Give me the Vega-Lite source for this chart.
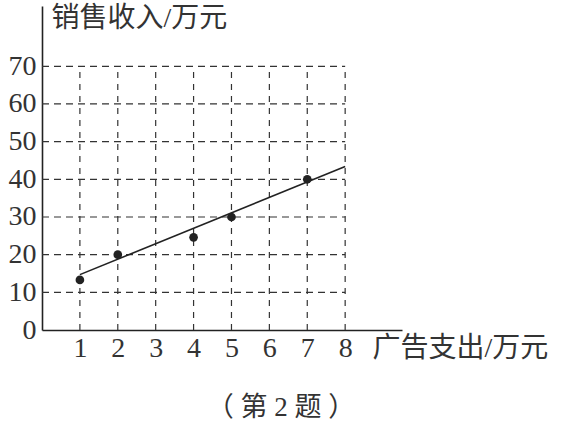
{
  "$schema": "https://vega.github.io/schema/vega-lite/v6.json",
  "width": 360,
  "height": 324,
  "autosize": {"type": "none"},
  "padding": {"left": 42, "top": 6, "right": 160, "bottom": 94},
  "background": "white",
  "title": {
    "text": "（ 第 2 题 ）",
    "orient": "bottom",
    "anchor": "middle",
    "frame": "group",
    "dx": 59,
    "offset": 33,
    "font": "Liberation Serif, Noto Sans CJK SC",
    "fontSize": 27,
    "fontWeight": "normal",
    "color": "#333"
  },
  "datasets": {
    "hgrid": [
      {"x": 0, "x2": 8, "y": 10},
      {"x": 0, "x2": 8, "y": 20},
      {"x": 0, "x2": 8, "y": 30},
      {"x": 0, "x2": 8, "y": 40},
      {"x": 0, "x2": 8, "y": 50},
      {"x": 0, "x2": 8, "y": 60},
      {"x": 0, "x2": 8, "y": 70}
    ],
    "vgrid": [
      {"x": 1, "y": 0, "y2": 70},
      {"x": 2, "y": 0, "y2": 70},
      {"x": 3, "y": 0, "y2": 70},
      {"x": 4, "y": 0, "y2": 70},
      {"x": 5, "y": 0, "y2": 70},
      {"x": 6, "y": 0, "y2": 70},
      {"x": 7, "y": 0, "y2": 70},
      {"x": 8, "y": 0, "y2": 70}
    ],
    "fit": [
      {"x": 1, "y": 14.7},
      {"x": 8, "y": 43.4}
    ],
    "sales": [
      {"x": 1, "y": 13.3},
      {"x": 2, "y": 20},
      {"x": 4, "y": 24.6},
      {"x": 5, "y": 30},
      {"x": 7, "y": 40}
    ]
  },
  "encoding": {
    "x": {
      "field": "x",
      "type": "quantitative",
      "scale": {"domain": [0, 9.5], "nice": false},
      "axis": {
        "values": [1, 2, 3, 4, 5, 6, 7, 8],
        "grid": false,
        "ticks": false,
        "domainColor": "#222",
        "domainWidth": 1.6,
        "labelFont": "Liberation Serif",
        "labelFontSize": 28,
        "labelColor": "#333",
        "labelPadding": 4,
        "labelFlush": false,
        "title": "广告支出/万元",
        "titleFont": "Liberation Serif, Noto Sans CJK SC",
        "titleFontSize": 28,
        "titleFontWeight": "normal",
        "titleColor": "#333",
        "titleAlign": "left",
        "titleBaseline": "middle",
        "titleX": 330,
        "titleY": 18
      }
    },
    "y": {
      "field": "y",
      "type": "quantitative",
      "scale": {"domain": [0, 86], "nice": false},
      "axis": {
        "values": [0, 10, 20, 30, 40, 50, 60, 70],
        "grid": false,
        "ticks": false,
        "domainColor": "#222",
        "domainWidth": 1.6,
        "labelFont": "Liberation Serif",
        "labelFontSize": 28,
        "labelColor": "#333",
        "labelPadding": 6,
        "labelFlush": false,
        "title": "销售收入/万元",
        "titleFont": "Liberation Serif, Noto Sans CJK SC",
        "titleFontSize": 28,
        "titleFontWeight": "normal",
        "titleColor": "#333",
        "titleAngle": 0,
        "titleAlign": "left",
        "titleBaseline": "middle",
        "titleX": 9,
        "titleY": 12
      }
    }
  },
  "layer": [
    {
      "data": {"name": "hgrid"},
      "mark": {"type": "rule", "color": "#333", "strokeWidth": 1.2, "strokeDash": [7, 5]},
      "encoding": {"x2": {"field": "x2"}}
    },
    {
      "data": {"name": "vgrid"},
      "mark": {"type": "rule", "color": "#333", "strokeWidth": 1.2, "strokeDash": [6, 6]},
      "encoding": {"y2": {"field": "y2"}}
    },
    {
      "data": {"name": "fit"},
      "mark": {"type": "line", "color": "#222", "strokeWidth": 1.6},
      "encoding": {}
    },
    {
      "data": {"name": "sales"},
      "mark": {"type": "circle", "color": "#222", "opacity": 1, "size": 75},
      "encoding": {}
    }
  ],
  "config": {
    "view": {"stroke": null}
  }
}
